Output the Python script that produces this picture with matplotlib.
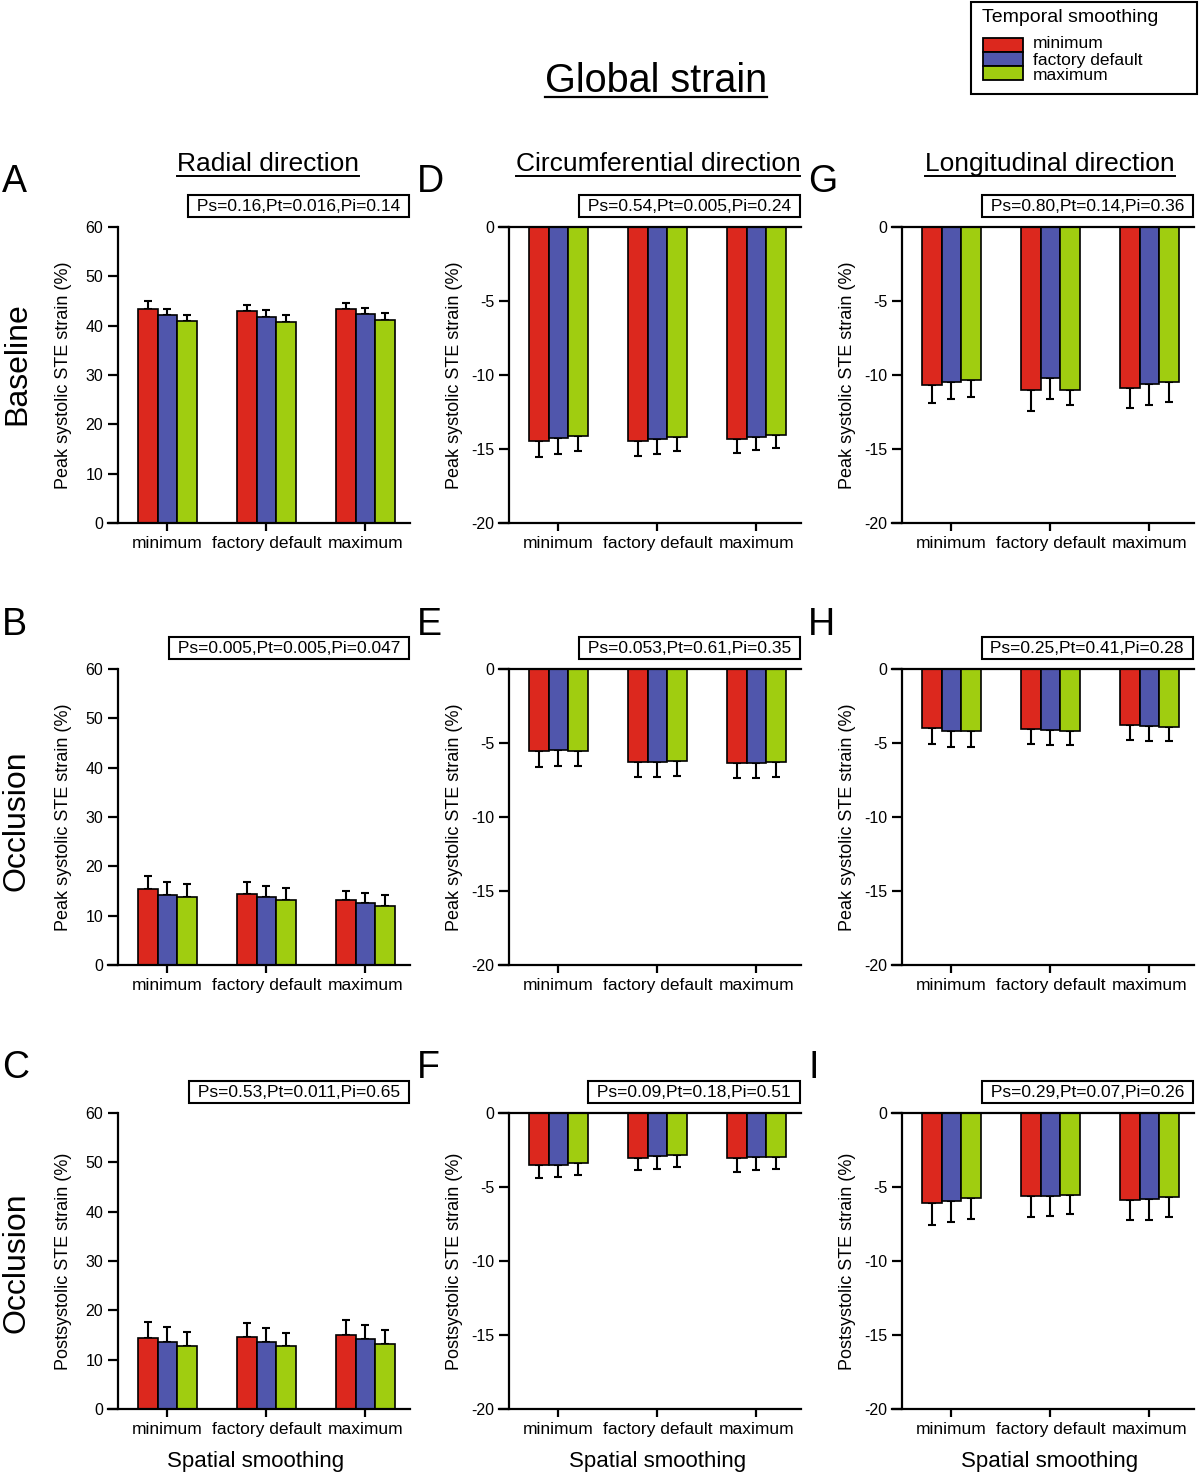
import matplotlib.pyplot as plt
import numpy as np
from matplotlib.patches import Rectangle
from matplotlib.lines import Line2D

plt.rcParams['font.family'] = ['Liberation Sans', 'DejaVu Sans']
plt.rcParams['axes.unicode_minus'] = False

W, H = 1200, 1474

spatial = ['minimum', 'factory default', 'maximum']
temporal = ['minimum', 'factory default', 'maximum']
colors = ['#DC281E', '#5056AC', '#A0CD10']

# rows = temporal smoothing (min, default, max), cols = spatial smoothing
rad_base = [[43.4, 42.9, 43.4], [42.2, 41.8, 42.3], [41.0, 40.7, 41.2]]
rad_base_err = [[1.5, 1.3, 1.2], [1.2, 1.4, 1.3], [1.1, 1.4, 1.4]]
rad_occ = [[15.5, 14.4, 13.1], [14.2, 13.7, 12.5], [13.8, 13.2, 12.0]]
rad_occ_err = [[2.6, 2.5, 2.0], [2.6, 2.4, 2.1], [2.6, 2.5, 2.1]]
rad_post = [[14.4, 14.5, 14.9], [13.6, 13.5, 14.1], [12.8, 12.7, 13.2]]
rad_post_err = [[3.2, 3.0, 3.1], [3.0, 2.9, 2.9], [2.8, 2.7, 2.8]]

circ_base = [[-14.43, -14.48, -14.32], [-14.27, -14.34, -14.18], [-14.11, -14.18, -14.05]]
circ_base_err = [[1.08, 1.0, 0.97], [1.06, 1.0, 0.92], [1.04, 0.97, 0.9]]
circ_occ = [[-5.54, -6.28, -6.33], [-5.50, -6.26, -6.33], [-5.52, -6.22, -6.28]]
circ_occ_err = [[1.06, 1.04, 1.01], [1.05, 1.04, 1.01], [1.03, 1.01, 0.99]]
circ_post = [[-3.51, -3.02, -3.06], [-3.49, -2.88, -2.95], [-3.36, -2.82, -2.95]]
circ_post_err = [[0.86, 0.85, 0.93], [0.81, 0.88, 0.9], [0.81, 0.83, 0.81]]

long_base = [[-10.67, -11.03, -10.85], [-10.45, -10.18, -10.63], [-10.36, -10.99, -10.47]]
long_base_err = [[1.24, 1.37, 1.4], [1.17, 1.44, 1.4], [1.15, 1.03, 1.37]]
long_occ = [[-3.99, -4.08, -3.81], [-4.19, -4.14, -3.87], [-4.21, -4.17, -3.92]]
long_occ_err = [[1.07, 0.98, 0.96], [1.05, 0.99, 0.97], [1.05, 0.98, 0.96]]
long_post = [[-6.07, -5.64, -5.86], [-5.95, -5.64, -5.82], [-5.75, -5.55, -5.70]]
long_post_err = [[1.48, 1.37, 1.4], [1.42, 1.35, 1.4], [1.42, 1.3, 1.31]]

p_rad = ['Ps=0.16,Pt=0.016,Pi=0.14', 'Ps=0.005,Pt=0.005,Pi=0.047', 'Ps=0.53,Pt=0.011,Pi=0.65']
p_circ = ['Ps=0.54,Pt=0.005,Pi=0.24', 'Ps=0.053,Pt=0.61,Pi=0.35', 'Ps=0.09,Pt=0.18,Pi=0.51']
p_long = ['Ps=0.80,Pt=0.14,Pi=0.36', 'Ps=0.25,Pt=0.41,Pi=0.28', 'Ps=0.29,Pt=0.07,Pi=0.26']

col_titles = ['Radial direction', 'Circumferential direction', 'Longitudinal direction']
row_labels = ['Baseline', 'Occlusion', 'Occlusion']
ylabels = ['Peak systolic STE strain (%)', 'Peak systolic STE strain (%)', 'Postsystolic STE strain (%)']
letters = [['A', 'D', 'G'], ['B', 'E', 'H'], ['C', 'F', 'I']]

means = [[rad_base, circ_base, long_base], [rad_occ, circ_occ, long_occ], [rad_post, circ_post, long_post]]
errs = [[rad_base_err, circ_base_err, long_base_err], [rad_occ_err, circ_occ_err, long_occ_err],
        [rad_post_err, circ_post_err, long_post_err]]
pvals = [[p_rad[r], p_circ[r], p_long[r]] for r in range(3)]

fig = plt.figure(figsize=(W / 100, H / 100), dpi=100)


def fx(px):
    return px / W


def fy(py):
    return 1 - py / H


col_left = [108, 499, 892]
row_top = [227, 669, 1113]
ax_w, ax_h = 302, 296


def draw(ax, mean, err, ptxt, ylabel):
    x = np.arange(len(spatial))
    w = 0.2
    neg = np.mean(mean) < 0
    for i, (m, e, c) in enumerate(zip(mean, err, colors)):
        pos = x + (i - 1) * w
        m = np.array(m)
        e = np.array(e)
        z = np.zeros_like(e)
        yerr = [e, z] if neg else [z, e]
        ax.errorbar(pos, m, yerr=yerr, fmt='none', ecolor='black', elinewidth=1.5,
                    capsize=3.2, capthick=1.5, zorder=1)
        ax.bar(pos, m, w, color=c, edgecolor='black', linewidth=1.2, zorder=2)
    ax.set_xlim(-0.6, 2.45)
    if neg:
        ax.set_ylim(-20, 0)
        ax.set_yticks(np.arange(-20, 1, 5))
    else:
        ax.set_ylim(0, 60)
        ax.set_yticks(np.arange(0, 61, 10))
    ax.set_xticks(x)
    ax.set_xticklabels(spatial)
    ax.spines['right'].set_visible(False)
    ax.spines['top'].set_visible(neg)
    ax.spines['left'].set_position(('data', -0.5))
    for s in ax.spines.values():
        s.set_linewidth(1.6)
    ax.tick_params(axis='x', direction='out', length=6, width=1.6, labelsize=12.5, top=False)
    ax.tick_params(axis='y', direction='out', length=7, width=1.6, labelsize=11.5)
    ax.set_ylabel(ylabel, fontsize=13)
    ax.yaxis.set_label_coords(-0.12, 0.5)
    ax.text(0.983, 1.045, ' ' + ptxt + ' ', transform=ax.transAxes, ha='right', va='bottom',
            fontsize=12.5, bbox=dict(boxstyle='square,pad=0.22', fc='white', ec='black', lw=1.5))


for r in range(3):
    for c in range(3):
        ax = fig.add_axes([fx(col_left[c]), fy(row_top[r] + ax_h), fx(ax_w), ax_h / H])
        draw(ax, means[r][c], errs[r][c], pvals[r][c], ylabels[r])

# panel letters
letter_x = [2, 417, 808]
letter_y = [182, 625, 1068]
for r in range(3):
    for c in range(3):
        fig.text(fx(letter_x[c]), fy(letter_y[r]), letters[r][c], fontsize=27, ha='left', va='center')

# row labels
row_y = [364, 821, 1263]
for r in range(3):
    fig.text(fx(17), fy(row_y[r]), row_labels[r], fontsize=23, rotation=90, ha='center', va='center')

# titles with underline
underlined = []
t = fig.text(fx(656), fy(92), 'Global strain', fontsize=28.5, ha='center', va='baseline')
underlined.append((t, 97, 1.6))
title_x = [268, 658, 1050]
for c in range(3):
    t = fig.text(fx(title_x[c]), fy(171), col_titles[c], fontsize=19, ha='center', va='baseline')
    underlined.append((t, 176, 1.4))

xl_x = [256, 658, 1050]
for c in range(3):
    fig.text(fx(xl_x[c]), fy(1467), 'Spatial smoothing', fontsize=16, ha='center', va='baseline')

# legend
fig.add_artist(Rectangle((fx(971), fy(94)), fx(226), 92 / H, transform=fig.transFigure,
                         fc='white', ec='black', lw=1.5))
fig.text(fx(982), fy(18), 'Temporal smoothing', fontsize=14, ha='left', va='center')
patch_top = 38
ph = 14
label_y = [44, 60, 76]
for i, (lab, col) in enumerate(zip(temporal, colors)):
    y0 = patch_top + i * ph
    fig.add_artist(Rectangle((fx(983), fy(y0 + ph)), fx(40), ph / H, transform=fig.transFigure,
                             fc=col, ec='black', lw=1.3))
    fig.text(fx(1033), fy(label_y[i]), lab, fontsize=12.5, ha='left', va='center')

fig.canvas.draw()
renderer = fig.canvas.get_renderer()
for t, ypx, lw in underlined:
    bb = t.get_window_extent(renderer).transformed(fig.transFigure.inverted())
    fig.add_artist(Line2D([bb.x0, bb.x1], [fy(ypx), fy(ypx)], transform=fig.transFigure,
                          color='black', lw=lw))

fig.savefig('out.png', dpi=100)
